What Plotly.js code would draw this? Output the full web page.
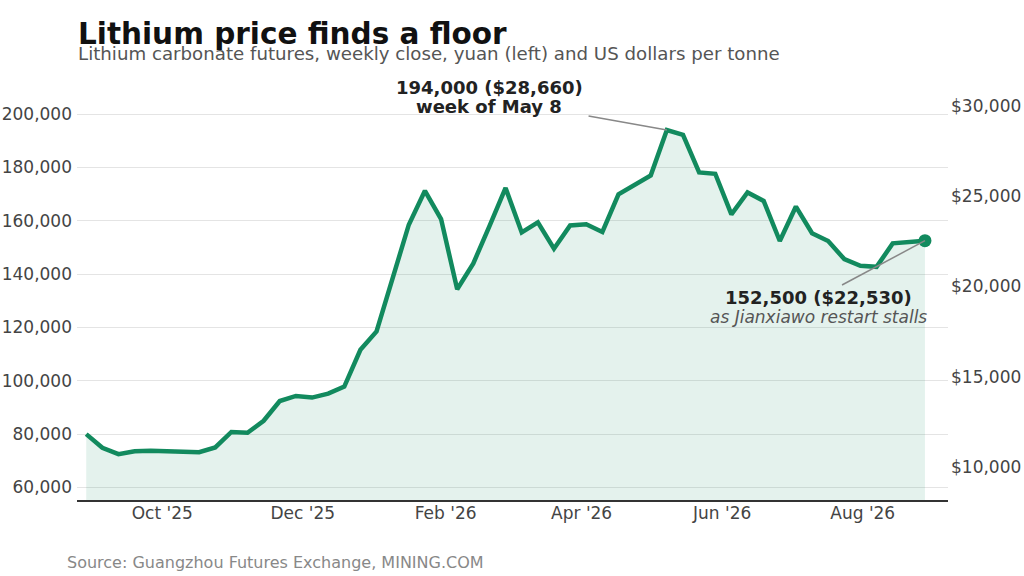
<!DOCTYPE html>
<html>
<head>
<meta charset="utf-8">
<script src="https://cdn.plot.ly/plotly-3.0.1.min.js"></script>
<style>
  html, body { margin: 0; padding: 0; background: #fff; }
  #chart { width: 1024px; height: 576px; }
</style>
</head>
<body>
<div id="chart"></div>
<script>
// weekly Friday closes, Lithium carbonate futures (GFEX), yuan per tonne
const weeks = [
  "2025-08-29", "2025-09-05", "2025-09-12", "2025-09-19", "2025-09-26",
  "2025-10-03", "2025-10-10", "2025-10-17", "2025-10-24", "2025-10-31",
  "2025-11-07", "2025-11-14", "2025-11-21", "2025-11-28",
  "2025-12-05", "2025-12-12", "2025-12-19", "2025-12-26",
  "2026-01-02", "2026-01-09", "2026-01-16", "2026-01-23", "2026-01-30",
  "2026-02-06", "2026-02-13", "2026-02-20", "2026-02-27",
  "2026-03-06", "2026-03-13", "2026-03-20", "2026-03-27",
  "2026-04-03", "2026-04-10", "2026-04-17", "2026-04-24",
  "2026-05-01", "2026-05-08", "2026-05-15", "2026-05-22", "2026-05-29",
  "2026-06-05", "2026-06-12", "2026-06-19", "2026-06-26",
  "2026-07-03", "2026-07-10", "2026-07-17", "2026-07-24", "2026-07-31",
  "2026-08-07", "2026-08-14", "2026-08-21", "2026-08-28"
];
const yuan = [
  80000, 74900, 72500, 73600, 73800,
  73700, 73600, 73200, 75000, 80800,
  80500, 85000, 92400, 94300,
  93700, 95200, 97800, 111600,
  118500, 138500, 158500, 171200, 160600,
  134300, 144000, 158000, 172300,
  155600, 159400, 149500, 158200,
  158700, 155800, 169900, 173500,
  177000, 194000, 192200, 178100, 177600,
  162400, 170600, 167400, 152400,
  165300, 155300, 152400, 145600, 143100,
  142700, 151500, 152200, 152500
];
const yuanPerDollar = 6.769;
const usd = yuan.map((v) => v / yuanPerDollar);

const monthTicks = ["2025-10-01", "2025-12-01", "2026-02-01", "2026-04-01", "2026-06-01", "2026-08-01"];
const monthLabels = ["Oct '25", "Dec '25", "Feb '26", "Apr '26", "Jun '26", "Aug '26"];

const peakIdx = 36;
const lastIdx = yuan.length - 1;

const fmt = (n) => Math.round(n).toLocaleString("en-US");
const fmtUsd = (n) => "$" + (Math.round(n / 10) * 10).toLocaleString("en-US");

const GREEN = "#128a5e";
const FONT = "DejaVu Sans";
const yRange = [55300, 205250];

const traces = [
  {
    x: weeks, y: yuan, type: "scatter", mode: "lines",
    line: { color: GREEN, width: 4.5 },
    fill: "tozeroy", fillcolor: "rgba(18,138,94,0.115)",
    hoverinfo: "skip",
  },
  {
    // dollar scale, drawn invisibly so the right axis lines up
    x: weeks, y: usd, type: "scatter", mode: "lines", yaxis: "y2",
    line: { width: 0, color: "rgba(0,0,0,0)" }, hoverinfo: "skip",
  },
  {
    x: [weeks[lastIdx]], y: [yuan[lastIdx]], type: "scatter", mode: "markers",
    marker: { color: GREEN, size: 13 }, hoverinfo: "skip",
  },
];

const layout = {
  width: 1024, height: 576,
  margin: { l: 77, r: 76, t: 100, b: 76 },
  paper_bgcolor: "#fff", plot_bgcolor: "#fff",
  showlegend: false,
  font: { family: FONT, color: "#444" },
  title: {
    text: "<b>Lithium price finds a floor</b>",
    font: { family: FONT, size: 29.5, color: "#111" },
    xref: "container", x: 78 / 1024, xanchor: "left",
    yref: "container", y: 1 - 23 / 576, yanchor: "top",
  },
  xaxis: {
    type: "date",
    range: ["2025-08-25", "2026-09-07"],
    tickvals: monthTicks, ticktext: monthLabels,
    showgrid: false, zeroline: false,
    showline: true, linecolor: "#333", linewidth: 1.5,
    ticks: "", tickfont: { size: 17, color: "#444" },
    ticklabelstandoff: -3,
  },
  yaxis: {
    range: yRange, dtick: 20000, tick0: 0,
    tickformat: ",d",
    showgrid: true, gridcolor: "#e4e4e4", gridwidth: 1,
    zeroline: false, ticks: "",
    tickfont: { size: 17, color: "#444" },
    ticklabelstandoff: 4,
  },
  yaxis2: {
    overlaying: "y", side: "right",
    range: yRange.map((v) => v / yuanPerDollar),
    dtick: 5000, tick0: 0, tickprefix: "$", tickformat: ",d",
    showgrid: false, zeroline: false, ticks: "",
    tickfont: { size: 17, color: "#444" },
    ticklabelstandoff: 2,
  },
  shapes: [
    {
      type: "line", xref: "x", yref: "y",
      x0: "2026-04-04", y0: 199250, x1: weeks[peakIdx], y1: yuan[peakIdx],
      line: { color: "#888", width: 1.5 },
    },
    {
      type: "line", xref: "x", yref: "y",
      x0: "2026-07-23", y0: 135900, x1: weeks[lastIdx], y1: yuan[lastIdx],
      line: { color: "#888", width: 1.5 },
    },
  ],
  annotations: [
    {
      text: "Lithium carbonate futures, weekly close, yuan (left) and US dollars per tonne",
      xref: "paper", yref: "paper", x: (76 - 77) / 871, y: (500 - 53) / 400,
      xanchor: "left", yanchor: "middle", showarrow: false,
      font: { family: FONT, size: 18.2, color: "#555" },
    },
    {
      text: "Source: Guangzhou Futures Exchange, MINING.COM",
      xref: "paper", yref: "paper", x: (65 - 77) / 871, y: (500 - 562) / 400,
      xanchor: "left", yanchor: "middle", showarrow: false,
      font: { family: FONT, size: 16, color: "#888" },
    },
    {
      text: `<b>${fmt(yuan[peakIdx])} (${fmtUsd(usd[peakIdx])})</b>`,
      xref: "paper", yref: "paper", x: (489 - 77) / 871, y: (500 - 87) / 400,
      xanchor: "center", yanchor: "middle", showarrow: false,
      font: { family: FONT, size: 18, color: "#222" },
    },
    {
      text: "<b>week of May 8</b>",
      xref: "paper", yref: "paper", x: (489 - 77) / 871, y: (500 - 107) / 400,
      xanchor: "center", yanchor: "middle", showarrow: false,
      font: { family: FONT, size: 18, color: "#222" },
    },
    {
      text: `<b>${fmt(yuan[lastIdx])} (${fmtUsd(usd[lastIdx])})</b>`,
      xref: "paper", yref: "paper", x: (914 - 77) / 871, y: (500 - 297) / 400,
      xanchor: "right", yanchor: "middle", showarrow: false,
      font: { family: FONT, size: 18, color: "#222" },
    },
    {
      text: "<i>as Jianxiawo restart stalls</i>",
      xref: "paper", yref: "paper", x: (929 - 77) / 871, y: (500 - 317) / 400,
      xanchor: "right", yanchor: "middle", showarrow: false,
      font: { family: FONT, size: 17, color: "#555" },
    },
  ],
};

Plotly.newPlot("chart", traces, layout, { displayModeBar: false, staticPlot: true });
</script>
</body>
</html>
